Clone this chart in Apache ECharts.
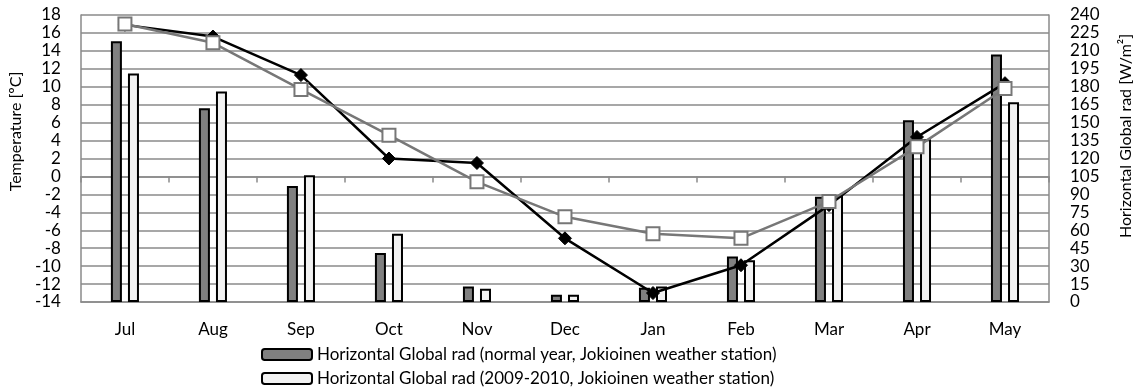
<!DOCTYPE html>
<html>
<head>
<meta charset="utf-8">
<script src="https://cdn.jsdelivr.net/npm/echarts@6/dist/echarts.min.js"></script>
<style>
html,body{margin:0;padding:0;background:#fff;}
#c{width:1142px;height:392px;}
</style>
</head>
<body>
<div id="c"></div>
<script>
const months = ['Jul','Aug','Sep','Oct','Nov','Dec','Jan','Feb','Mar','Apr','May'];
const radNormal = [218, 162, 97, 41, 13, 6, 12, 38, 88, 152, 207];
const rad2009 = [191, 176, 106, 57, 11, 6, 13, 35, 89, 136, 167];
const tempNormal = [16.9, 15.6, 11.3, 2.0, 1.5, -6.9, -13.0, -9.9, -3.2, 4.4, 10.4];
const temp2009 = [17.0, 14.9, 9.7, 4.6, -0.6, -4.5, -6.4, -6.9, -2.8, 3.3, 9.8];
const nameNormalRad = 'Horizontal Global rad (normal year, Jokioinen weather station)';
const name2009Rad = 'Horizontal Global rad (2009-2010, Jokioinen weather station)';

const FONT = 'Lato, "Open Sans", sans-serif';
const GRID = '#8a8a8a';
const FS = 17;

function legendFor(name, top) {
  return {
    data: [name],
    orient: 'vertical',
    left: 261,
    top: top,
    itemWidth: 50,
    itemHeight: 11,
    itemGap: 0,
    padding: 0,
    textStyle: {fontFamily: FONT, fontSize: FS, color: '#000'}
  };
}

const chart = echarts.init(document.getElementById('c'), null, {renderer: 'canvas'});
chart.setOption({
  animation: false,
  textStyle: {fontFamily: FONT, color: '#000'},
  grid: {left: 74, right: 87, top: 15, bottom: 90, containLabel: false},
  legend: [legendFor(nameNormalRad, 346), legendFor(name2009Rad, 370)],
  xAxis: [
    {
      type: 'category', data: months, position: 'bottom',
      axisLine: {show: true, onZero: false, lineStyle: {color: GRID, width: 1.5}},
      axisTick: {show: false},
      axisLabel: {fontFamily: FONT, fontSize: FS, color: '#000', margin: 19}
    },
    {
      type: 'category', data: months, position: 'bottom',
      axisLine: {show: true, onZero: true, onZeroAxisIndex: 0, lineStyle: {color: GRID, width: 1.5}},
      axisTick: {show: true, length: 6, lineStyle: {color: GRID, width: 1.5}},
      axisLabel: {show: false}
    }
  ],
  yAxis: [
    {
      type: 'value', min: -14, max: 18, interval: 2, position: 'left',
      name: 'Temperature [ºC]', nameLocation: 'middle', nameRotate: 90, nameGap: 48,
      nameTextStyle: {fontFamily: FONT, fontSize: 16, color: '#000', padding: [0, 0, 0, 54]},
      axisLine: {show: true, lineStyle: {color: GRID, width: 1.5}},
      axisTick: {show: false},
      axisLabel: {fontFamily: FONT, fontSize: FS, color: '#000', margin: 20},
      splitLine: {show: true, lineStyle: {color: GRID, width: 1.5}}
    },
    {
      type: 'value', min: 0, max: 240, interval: 15, position: 'right',
      name: 'Horizontal Global rad [W/m²]', nameLocation: 'middle', nameRotate: 90, nameGap: 69,
      nameTextStyle: {fontFamily: FONT, fontSize: 16, color: '#000', padding: [0, 0, 0, 45]},
      axisLine: {show: true, lineStyle: {color: GRID, width: 1.5}},
      axisTick: {show: false},
      axisLabel: {fontFamily: FONT, fontSize: FS, color: '#000', margin: 21},
      splitLine: {show: false}
    }
  ],
  series: [
    {
      name: nameNormalRad, type: 'bar', xAxisIndex: 0, yAxisIndex: 1,
      data: radNormal, barWidth: 11, barGap: '55%', z: 2,
      itemStyle: {color: '#808080', borderColor: '#000', borderWidth: 2}
    },
    {
      name: name2009Rad, type: 'bar', xAxisIndex: 0, yAxisIndex: 1,
      data: rad2009, barWidth: 11, z: 2,
      itemStyle: {color: '#f2f2f2', borderColor: '#000', borderWidth: 2}
    },
    {
      name: 'Temperature (normal year)', type: 'line', xAxisIndex: 0, yAxisIndex: 0,
      data: tempNormal, z: 3,
      symbol: 'diamond', symbolSize: 13,
      lineStyle: {color: '#000', width: 2.5},
      itemStyle: {color: '#000', borderColor: '#000', borderWidth: 1}
    },
    {
      name: 'Temperature (2009-2010)', type: 'line', xAxisIndex: 0, yAxisIndex: 0,
      data: temp2009, z: 4,
      symbol: 'rect', symbolSize: 13,
      lineStyle: {color: '#777', width: 2.5},
      itemStyle: {color: '#fff', borderColor: '#777', borderWidth: 2}
    }
  ]
});
</script>
</body>
</html>
